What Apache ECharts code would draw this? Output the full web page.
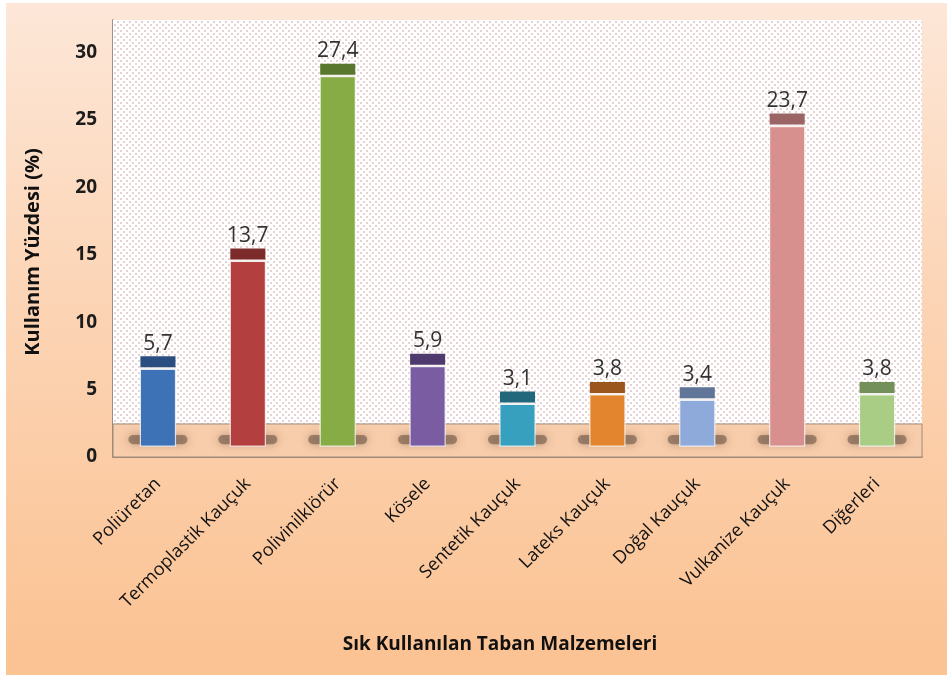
<!DOCTYPE html>
<html>
<head>
<meta charset="utf-8">
<script src="https://cdn.jsdelivr.net/npm/echarts@6/dist/echarts.min.js"></script>
<style>
html, body { margin: 0; padding: 0; background: #fff; }
.wrap { position: relative; width: 947px; height: 675px; overflow: hidden; }
.bg {
  position: absolute; left: 6px; top: 3px; right: 0; bottom: 0;
  background: linear-gradient(180deg, #fde7d8 0%, #fcd6b8 40%, #fbc292 100%);
}
#chart { position: absolute; left: 0; top: 0; width: 947px; height: 675px; }
</style>
</head>
<body>
<div class="wrap"><div class="bg"></div><div id="chart"></div></div>
<script>
// kategoriler ve değerler
const categories = ['Poliüretan', 'Termoplastik Kauçuk', 'Polivinilklörür', 'Kösele', 'Sentetik Kauçuk',
  'Lateks Kauçuk', 'Doğal Kauçuk', 'Vulkanize Kauçuk', 'Diğerleri']
const values = [5.7, 13.7, 27.4, 5.9, 3.1, 3.8, 3.4, 23.7, 3.8]
const barColors = ['#3d72b6', '#b3403e', '#87ab45', '#7a5ca2', '#38a0bf', '#e3852f', '#8eaadb', '#d8908f', '#a9cd85']
const capColors = ['#2a4e7f', '#7c2b2a', '#5a772e', '#4f3a6e', '#22687c', '#9b561d', '#5f7699', '#9a6564', '#74905a']
const yTicks = [0, 5, 10, 15, 20, 25, 30]

const FLOOR_TOP = 2.45  // zemin üst çizgisi
const BASE = 0.8        // 3B çubuk tabanı
const Y_MAX = 32.4
const CAP = 11
const FONT = '"Open Sans", "Noto Sans", sans-serif'

function dotPattern() {
  const c = document.createElement('canvas')
  c.width = 6
  c.height = 6
  const ctx = c.getContext('2d')
  ctx.fillStyle = '#ffffff'
  ctx.fillRect(0, 0, 6, 6)
  ctx.fillStyle = '#e6d2d2'
  ctx.fillRect(0, 0, 2, 2)
  ctx.fillRect(3, 3, 2, 2)
  return c
}

const chart = echarts.init(document.getElementById('chart'))

const option = {
  backgroundColor: 'transparent',
  animation: false,
  grid: { left: 113, right: 25, top: 20, bottom: 218 },
  xAxis: {
    type: 'category',
    data: categories,
    axisLine: { lineStyle: { color: '#8c7866', width: 1.5 } },
    axisTick: { inside: true, length: 5, lineStyle: { color: '#8c7866' } },
    axisLabel: {
      rotate: 45, margin: 24, color: '#111', fontSize: 18, fontFamily: FONT, interval: 0
    }
  },
  yAxis: {
    type: 'value',
    min: 0,
    max: Y_MAX,
    interval: 5,
    axisLine: { show: true, lineStyle: { color: '#777', width: 1.5 } },
    axisTick: { show: false },
    splitLine: { show: false },
    axisLabel: {
      margin: 16, color: '#1c1c1c', fontSize: 19, fontWeight: 'bold', fontFamily: FONT,
      formatter: v => (yTicks.indexOf(v) >= 0 ? String(v) : '')
    }
  },
  graphic: [
    {
      type: 'text', x: 33, y: 252, rotation: Math.PI / 2,
      style: {
        text: 'Kullanım Yüzdesi (%)', fill: '#111',
        font: 'bold 20px ' + FONT, align: 'center', verticalAlign: 'middle'
      }
    },
    {
      type: 'text', x: 500, y: 645,
      style: {
        text: 'Sık Kullanılan Taban Malzemeleri', fill: '#111',
        font: 'bold 19px ' + FONT, align: 'center', verticalAlign: 'middle'
      }
    }
  ],
  series: [
    {
      // arka duvar ve zemin
      type: 'line',
      data: [],
      z: 1,
      silent: true,
      markArea: {
        silent: true,
        data: [
          [{ yAxis: FLOOR_TOP, itemStyle: { color: { image: dotPattern(), repeat: 'repeat' } } }, { yAxis: Y_MAX }],
          [{ yAxis: 0, itemStyle: { color: '#f8cdab', borderColor: '#a08a78', borderWidth: 1 } }, { yAxis: FLOOR_TOP }]
        ]
      }
    },
    {
      type: 'custom',
      z: 3,
      data: values.map((v, i) => [i, v]),
      renderItem: (params, api) => {
        const i = api.value(0)
        const v = api.value(1)
        const bottom = api.coord([i, BASE])
        const top = api.coord([i, BASE + v])
        const floorTop = api.coord([i, FLOOR_TOP])
        const w = api.size([1, 0])[0] * 0.39
        const x = bottom[0] - w / 2
        const capTop = top[1] - 2 - CAP
        return {
          type: 'group',
          children: [
            {
              type: 'rect',
              shape: { x: x - 12, y: floorTop[1] + 11, width: w + 24, height: bottom[1] - floorTop[1] - 13, r: 5 },
              style: { fill: 'rgba(100,76,60,0.55)', shadowBlur: 10, shadowColor: 'rgba(100,76,60,0.75)' }
            },
            {
              type: 'rect',
              shape: { x: x, y: top[1], width: w, height: bottom[1] - top[1] },
              style: { fill: barColors[i], stroke: 'rgba(255,255,255,0.75)', lineWidth: 1.2 }
            },
            {
              type: 'rect',
              shape: { x: x, y: top[1] - 2, width: w, height: 2 },
              style: { fill: '#f4f1ee' }
            },
            {
              type: 'rect',
              shape: { x: x, y: capTop, width: w, height: CAP },
              style: { fill: capColors[i] }
            },
            {
              type: 'text',
              style: {
                x: bottom[0], y: capTop - 2,
                text: v.toFixed(1).replace('.', ','),
                align: 'center', verticalAlign: 'bottom',
                fill: '#333', font: '21px ' + FONT
              }
            }
          ]
        }
      }
    }
  ]
}

chart.setOption(option)
</script>
</body>
</html>
